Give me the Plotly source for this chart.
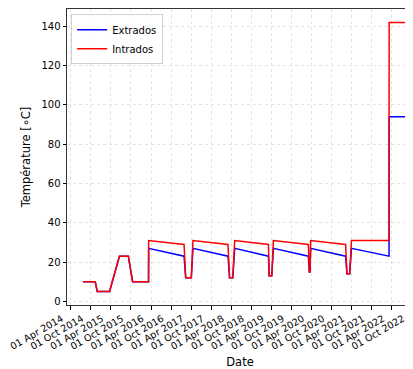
import plotly.graph_objects as go

# ---- data ----
dates = [
    "2014-07-21", "2014-11-10", "2014-11-28", "2015-03-20", "2015-06-18",
    "2015-09-07", "2015-10-16", "2016-03-09", "2016-03-10", "2017-01-26",
    "2017-02-10", "2017-04-02", "2017-04-17", "2018-03-02", "2018-03-16",
    "2018-04-14", "2018-05-02", "2019-03-05", "2019-03-11", "2019-04-04",
    "2019-04-19", "2020-03-02", "2020-03-11", "2020-03-17", "2020-03-23",
    "2021-02-04", "2021-02-16", "2021-03-13", "2021-03-29", "2022-03-06",
    "2022-03-07", "2022-08-18",
]
extrados = [10, 10, 5, 5, 23, 23, 10, 10, 27, 23,
            12, 12, 27, 23, 12, 12, 27, 23, 13, 13,
            27, 23, 15, 15, 27, 23, 14, 14, 27, 23,
            94, 94]
intrados = [10, 10, 5, 5, 23, 23, 10, 10, 31, 29,
            12, 12, 31, 29, 12, 12, 31, 29, 13, 13,
            31, 29, 15, 15, 31, 29, 14, 14, 31, 31,
            142, 142]

tick_dates = ["2014-04-01", "2014-10-01", "2015-04-01", "2015-10-01",
              "2016-04-01", "2016-10-01", "2017-04-01", "2017-10-01",
              "2018-04-01", "2018-10-01", "2019-04-01", "2019-10-01",
              "2020-04-01", "2020-10-01", "2021-04-01", "2021-10-01",
              "2022-04-01", "2022-10-01"]
y_ticks = [0, 20, 40, 60, 80, 100, 120, 140]

font_family = "DejaVu Sans"

fig = go.Figure()
fig.add_trace(go.Scatter(x=dates, y=extrados, mode="lines", name="Extrados",
                         line=dict(color="#0000ff", width=1.5)))
fig.add_trace(go.Scatter(x=dates, y=intrados, mode="lines", name="Intrados",
                         line=dict(color="#ff0000", width=1.5)))

# the page body adds an 8px offset, so the figure is 8px smaller than the window
fig.update_layout(
    width=405, height=361,
    margin=dict(l=59, r=0, t=1, b=64, autoexpand=False),
    paper_bgcolor="white", plot_bgcolor="white",
    font=dict(family=font_family, size=10, color="#000000"),
    showlegend=True,
    legend=dict(x=0.012, y=0.982, xanchor="left", yanchor="top",
                bgcolor="rgba(255,255,255,0.8)", bordercolor="#d0d0d0",
                borderwidth=1, font=dict(size=10), itemwidth=30,
                tracegroupgap=0),
)
fig.update_xaxes(
    type="date", automargin=False,
    range=["2014-02-26", "2022-10-10"],
    tickvals=tick_dates, tickformat="%d %b %Y", tickangle=-30,
    ticklabeloverflow="allow", ticklabelshift=-9,
    ticks="outside", ticklen=3.5, tickwidth=0.8, tickcolor="#000000",
    showline=True, linecolor="#333333", linewidth=1, mirror=True,
    showgrid=True, gridcolor="#e3e3e3", gridwidth=1, griddash="dot",
    zeroline=False,
    title=dict(text="Date", font=dict(size=11.5), standoff=8),
    tickfont=dict(size=9.6),
)
fig.update_yaxes(
    automargin=False,
    range=[-1.85, 148.85],
    tickvals=y_ticks,
    ticks="outside", ticklen=3.5, tickwidth=0.8, tickcolor="#000000",
    showline=True, linecolor="#333333", linewidth=1, mirror=False,
    showgrid=True, gridcolor="#e3e3e3", gridwidth=1, griddash="dot",
    zeroline=False,
    title=dict(text="Température [∘C]", font=dict(size=11.5), standoff=8),
    tickfont=dict(size=10),
)

fig.write_html("out.html")
